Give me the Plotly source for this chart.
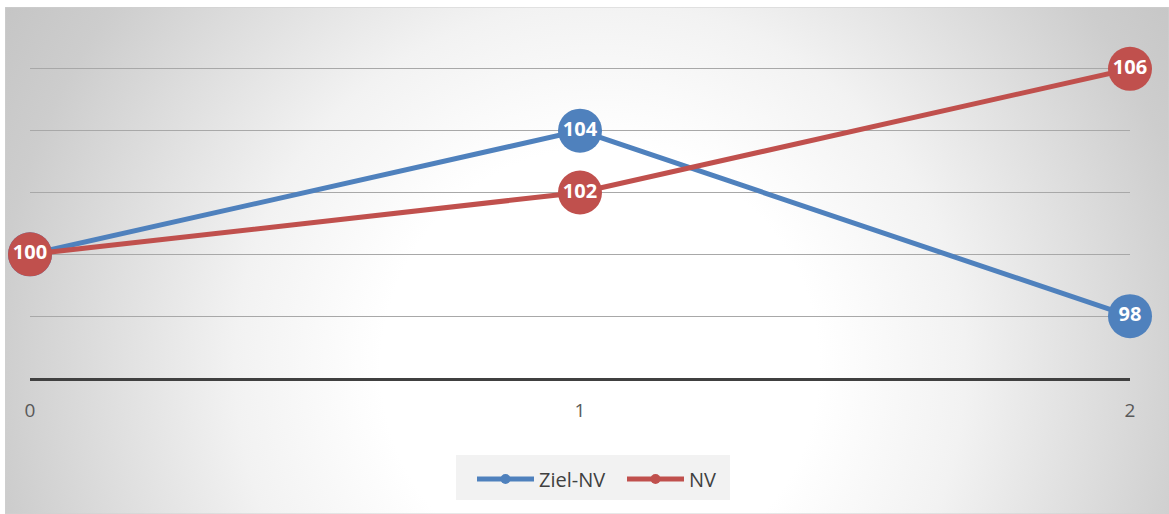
import base64
import plotly.graph_objects as go

x_vals = [0, 1, 2]
ziel_nv = [100, 104, 98]
nv = [100, 102, 106]
series_names = ["Ziel-NV", "NV"]
colors = ["#4F81BD", "#C0504D"]

W, H = 1169, 514
L, R, T, B = 30, 39, 7, 136
plot_w = W - L - R
plot_h = H - T - B

def px_x(px):
    return (px - L) / plot_w

def px_y(py):
    return (H - B - py) / plot_h

# radial gradient background (chart area)
bg_w, bg_h = W - 5, H - 7
svg = f'''<svg xmlns="http://www.w3.org/2000/svg" width="{bg_w}" height="{bg_h}" viewBox="0 0 {bg_w} {bg_h}" preserveAspectRatio="none">
<defs><radialGradient id="g" gradientUnits="userSpaceOnUse" cx="595" cy="360" r="730">
<stop offset="0" stop-color="#ffffff"/>
<stop offset="0.3" stop-color="#ffffff"/>
<stop offset="0.5" stop-color="#f2f2f2"/>
<stop offset="0.83" stop-color="#cdcdcd"/>
<stop offset="1" stop-color="#c2c2c2"/>
</radialGradient></defs>
<rect x="0" y="0" width="{bg_w}" height="{bg_h}" fill="url(#g)" stroke="#d0d0d0" stroke-width="1"/>
</svg>'''
src = "data:image/svg+xml;base64," + base64.b64encode(svg.encode()).decode()

fig = go.Figure()
for name, vals, col in zip(series_names, [ziel_nv, nv], colors):
    fig.add_trace(go.Scatter(
        x=x_vals, y=vals, name=name, mode="lines+markers+text",
        line=dict(color=col, width=5),
        marker=dict(color=col, size=44),
        text=[str(v) for v in vals], textposition="middle center",
        textfont=dict(family="Open Sans", size=20, color="white", weight="bold"),
        cliponaxis=False, showlegend=False,
    ))
for name, col in zip(series_names, colors):
    fig.add_trace(go.Scatter(
        x=[None], y=[None], name=name, mode="lines+markers",
        line=dict(color=col, width=5), marker=dict(color=col, size=10),
    ))

fig.add_layout_image(dict(
    source=src, xref="paper", yref="paper",
    x=px_x(5), y=px_y(7),
    sizex=bg_w / plot_w, sizey=bg_h / plot_h,
    xanchor="left", yanchor="top", sizing="stretch", layer="below",
))

# legend box
fig.add_shape(type="rect", xref="paper", yref="paper",
              x0=px_x(456), x1=px_x(730), y0=px_y(500), y1=px_y(455),
              fillcolor="#f2f2f2", line=dict(width=0), layer="below")

fig.update_layout(
    width=W, height=H,
    margin=dict(l=L, r=R, t=T, b=B),
    paper_bgcolor="white", plot_bgcolor="rgba(0,0,0,0)",
    font=dict(family="Open Sans", color="#595959"),
    xaxis=dict(range=[0, 2], tickvals=x_vals, ticktext=["0", "1", "2"],
               showgrid=False, zeroline=False, showline=True,
               linecolor="#404040", linewidth=3, ticks="",
               tickfont=dict(size=19, color="#595959"), ticklabelstandoff=13),
    yaxis=dict(range=[96, 108], tickvals=[98, 100, 102, 104, 106],
               showticklabels=False, showgrid=True, gridcolor="#a8a8a8",
               gridwidth=1, zeroline=False, showline=False, ticks=""),
    legend=dict(orientation="h", x=px_x(472), xanchor="left",
                y=px_y(479), yanchor="middle",
                bgcolor="rgba(0,0,0,0)", itemwidth=57,
                entrywidth=78, entrywidthmode="pixels",
                font=dict(size=20, color="#404040")),
)
fig.write_html("out.html", config={"displayModeBar": False},
               post_script="document.body.style.margin='0';")
